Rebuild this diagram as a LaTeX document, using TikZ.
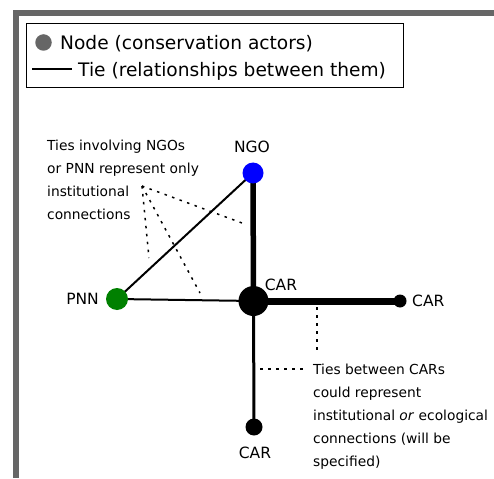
\documentclass[tikz,border=0pt]{standalone}
\usepackage{fontspec}
\setmainfont{DejaVu Sans}
\usetikzlibrary{backgrounds}
\definecolor{framegray}{HTML}{666666}
\definecolor{ngoblue}{HTML}{0000FF}
\definecolor{pnngreen}{HTML}{008000}
\tikzset{
  actor/.style={circle, inner sep=0pt, draw=none},
  lbl/.style={inner sep=0pt, font=\fontsize{15.5}{18}\selectfont},
  note/.style={inner sep=0pt, align=left, anchor=north west, font=\fontsize{13.8}{23}\selectfont},
  legtext/.style={inner sep=0pt, anchor=base west, font=\fontsize{18.6}{22}\selectfont},
  dots/.style={line width=1.5pt, dash pattern=on 2.5pt off 5.5pt},
}
\begin{document}
\begin{tikzpicture}[x=1pt,y=-1pt]
\useasboundingbox (0,0) rectangle (494,478);
% frame
\draw[line width=6pt, framegray, line join=miter] (494,13) -- (16,13) -- (16,478);
% legend
\node[draw, line width=1.2pt, minimum width=377pt, minimum height=64pt, anchor=north west, inner sep=0pt] (legend) at (26,23) {};
\node[actor, fill=framegray, minimum size=16.5pt] (legdot) at (43.5,42.5) {};
\node[legtext] (legnode) at (60,50) {Node (conservation actors)};
\coordinate (legA) at (32,69);
\coordinate (legB) at (72,69);
\draw[line width=1.3pt] (legA) -- (legB);
\node[legtext] (legtie) at (78,77) {Tie (relationships between them)};
% nodes
\node[actor, fill=ngoblue, minimum size=21pt] (ngo) at (253,173) {};
\node[actor, fill=pnngreen, minimum size=22pt] (pnn) at (117,299) {};
\node[actor, fill=black, minimum size=30pt] (car) at (253.5,301) {};
\node[actor, fill=black, minimum size=13pt] (carR) at (400,301) {};
\node[actor, fill=black, minimum size=17pt] (carB) at (254,427) {};
% labels
\node[lbl] (ngol) at (252,147) {NGO};
\node[lbl, anchor=east] (pnnl) at (99,299) {PNN};
\node[lbl] (carl) at (281,285) {CAR};
\node[lbl, anchor=west] (carRl) at (412,301) {CAR};
\node[lbl] (carBl) at (255,453) {CAR};
% ties
\begin{scope}[on background layer]
\draw[line width=2pt] (pnn.center) -- (ngo.center);
\draw[line width=2pt] (pnn.center) -- (car.center);
\draw[line width=5.5pt] (ngo.center) -- (car.center);
\draw[line width=7pt] (car.center) -- (carR.center);
\draw[line width=3pt] (car.center) -- (carB.center);
\end{scope}
% notes
\node[note] (noteL) at (47,139.5) {Ties involving NGOs\\or PNN represent only\\institutional\\connections};
\node[note] (noteR) at (313,363.5) {Ties between CARs\\could represent\\institutional \textit{or} ecological\\connections (will be\\specified)};
% dotted pointers
\coordinate (fan) at (142,186);
\coordinate (f1) at (242,223);
\coordinate (f2) at (149,258);
\coordinate (f3) at (200,293);
\draw[dots] (fan) -- (f1);
\draw[dots] (fan) -- (f2);
\draw[dots] (fan) -- (f3);
\coordinate (v1) at (317,307);
\coordinate (v2) at (317,350);
\draw[dots] (v1) -- (v2);
\coordinate (h1) at (260,369);
\coordinate (h2) at (305,369);
\draw[line width=1.3pt, dash pattern=on 3pt off 5pt] (h1) -- (h2);
\end{tikzpicture}
\end{document}
